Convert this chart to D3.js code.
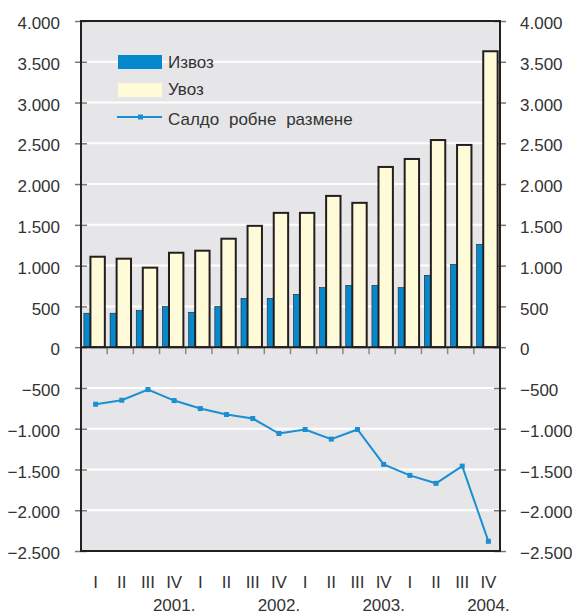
<!DOCTYPE html>
<html>
<head>
<meta charset="utf-8">
<script src="https://cdn.jsdelivr.net/npm/d3@7"></script>
<style>
  body { margin: 0; background: #fff; }
  svg text { font-family: "Liberation Sans", Arial, sans-serif; fill: #333; }
</style>
</head>
<body>
<div id="chart"></div>
<script>
const quarters = ['I', 'II', 'III', 'IV', 'I', 'II', 'III', 'IV', 'I', 'II', 'III', 'IV', 'I', 'II', 'III', 'IV'];
const years = ['2001.', '2002.', '2003.', '2004.'];
const exportVals = [416, 416, 449, 498, 428, 498, 599, 599, 648, 730, 758, 758, 730, 881, 1015, 1260];
const importVals = [1109, 1085, 975, 1158, 1183, 1330, 1488, 1647, 1647, 1855, 1770, 2210, 2308, 2540, 2480, 3629];
const balanceVals = [-700, -651, -520, -655, -753, -826, -875, -1059, -1010, -1128, -1010, -1438, -1573, -1670, -1459, -2381];
const yTicks = [4000, 3500, 3000, 2500, 2000, 1500, 1000, 500, 0, -500, -1000, -1500, -2000, -2500];
const legendLabels = ['Извоз', 'Увоз', 'Салдо робне размене'];

const width = 572;
const height = 616;
const plotL = 81, plotR = 500, plotT = 21, plotB = 551;

const blue = '#0589cc';
const cream = '#fffad7';
const dark = '#231f20';

const svg = d3.select('#chart').append('svg')
  .attr('width', width)
  .attr('height', height);

const ids = quarters.map((q, i) => i);

const x = d3.scaleBand()
  .domain(ids)
  .range([plotL, plotR])
  .padding(0);
const bw = x.bandwidth();

const y = d3.scaleLinear()
  .domain([-2500, 4000])
  .range([plotB, plotT]);

// plot background
svg.append('rect')
  .attr('x', plotL)
  .attr('y', plotT)
  .attr('width', plotR - plotL)
  .attr('height', plotB - plotT)
  .attr('fill', '#e6e6e8');

// grid
svg.append('g')
  .selectAll('line')
  .data(yTicks.filter(d => d !== 0 && d !== 4000 && d !== -2500))
  .enter()
  .append('line')
  .attr('x1', plotL)
  .attr('x2', plotR)
  .attr('y1', d => y(d))
  .attr('y2', d => y(d))
  .attr('stroke', '#fff')
  .attr('stroke-width', 2);

const fmt = d => {
  const s = d3.format(',')(Math.abs(d)).replace(/,/g, '.');
  return d < 0 ? '\u2212' + s : s;
};

// axes
const leftAxis = svg.append('g')
  .attr('transform', `translate(${plotL}, 0)`)
  .call(d3.axisLeft(y).tickValues(yTicks).tickFormat(fmt).tickSize(5).tickPadding(16));
const rightAxis = svg.append('g')
  .attr('transform', `translate(${plotR}, 0)`)
  .call(d3.axisRight(y).tickValues(yTicks).tickFormat(fmt).tickSize(5).tickPadding(15));

[leftAxis, rightAxis].forEach(a => {
  a.select('.domain').remove();
  a.selectAll('line')
    .attr('x1', -6)
    .attr('x2', 6)
    .attr('stroke', '#777')
    .attr('stroke-width', 1.5);
  a.selectAll('text')
    .style('font-size', '17px')
    .attr('dy', '0.45em')
    .attr('fill', '#333');
});

// category ticks under zero line
svg.append('g')
  .selectAll('line')
  .data(ids.slice(1))
  .enter()
  .append('line')
  .attr('x1', d => x(d))
  .attr('x2', d => x(d))
  .attr('y1', y(0))
  .attr('y2', y(0) + 7)
  .attr('stroke', '#888')
  .attr('stroke-width', 1.5);

// export bars (behind)
svg.append('g')
  .selectAll('rect')
  .data(exportVals)
  .enter()
  .append('rect')
  .attr('x', (d, i) => x(i) + bw * 0.11)
  .attr('y', d => y(d))
  .attr('width', bw * 0.5)
  .attr('height', d => y(0) - y(d))
  .attr('fill', blue)
  .attr('stroke', dark)
  .attr('stroke-width', 0.6);

// import bars
svg.append('g')
  .selectAll('rect')
  .data(importVals)
  .enter()
  .append('rect')
  .attr('x', (d, i) => x(i) + bw * 0.36)
  .attr('y', d => y(d))
  .attr('width', bw * 0.55)
  .attr('height', d => y(0) - y(d))
  .attr('fill', cream)
  .attr('stroke', dark)
  .attr('stroke-width', 2);

// balance line
const cx = i => x(i) + bw / 2 + 1.5;
svg.append('path')
  .datum(balanceVals)
  .attr('fill', 'none')
  .attr('stroke', '#1a8fd2')
  .attr('stroke-width', 2)
  .attr('d', d3.line().x((d, i) => cx(i)).y(d => y(d)));
svg.append('g')
  .selectAll('rect')
  .data(balanceVals)
  .enter()
  .append('rect')
  .attr('x', (d, i) => cx(i) - 2.5)
  .attr('y', d => y(d) - 2.5)
  .attr('width', 5)
  .attr('height', 5)
  .attr('fill', '#1a8fd2');

// frame + zero line
svg.append('rect')
  .attr('x', plotL)
  .attr('y', plotT)
  .attr('width', plotR - plotL)
  .attr('height', plotB - plotT)
  .attr('fill', 'none')
  .attr('stroke', dark)
  .attr('stroke-width', 2);
svg.append('line')
  .attr('x1', plotL)
  .attr('x2', plotR)
  .attr('y1', y(0))
  .attr('y2', y(0))
  .attr('stroke', dark)
  .attr('stroke-width', 2);

// x labels
svg.append('g')
  .selectAll('text')
  .data(quarters)
  .enter()
  .append('text')
  .attr('x', (d, i) => cx(i))
  .attr('y', 588)
  .attr('text-anchor', 'middle')
  .style('font-size', '17px')
  .text(d => d);
svg.append('g')
  .selectAll('text')
  .data(years)
  .enter()
  .append('text')
  .attr('x', (d, i) => cx(i * 4 + 3))
  .attr('y', 611)
  .attr('text-anchor', 'middle')
  .style('font-size', '17px')
  .text(d => d);

// legend
const lg = svg.append('g').attr('transform', 'translate(118, 55)');
const rowH = 28;
lg.append('rect').attr('x', 0).attr('y', 0).attr('width', 44).attr('height', 14).attr('fill', blue);
lg.append('rect').attr('x', 0).attr('y', rowH).attr('width', 44).attr('height', 14).attr('fill', cream);
lg.append('line').attr('x1', -1).attr('x2', 44).attr('y1', 62).attr('y2', 62)
  .attr('stroke', '#1a8fd2').attr('stroke-width', 2);
lg.append('rect').attr('x', 20).attr('y', 59.5).attr('width', 5).attr('height', 5).attr('fill', '#1a8fd2');
lg.selectAll('text.lab')
  .data(legendLabels)
  .enter()
  .append('text')
  .attr('class', 'lab')
  .attr('x', 50)
  .attr('y', (d, i) => [7, 34, 64][i])
  .attr('dy', '0.36em')
  .style('font-size', '17px')
  .style('word-spacing', '5px')
  .text(d => d);
</script>
</body>
</html>
